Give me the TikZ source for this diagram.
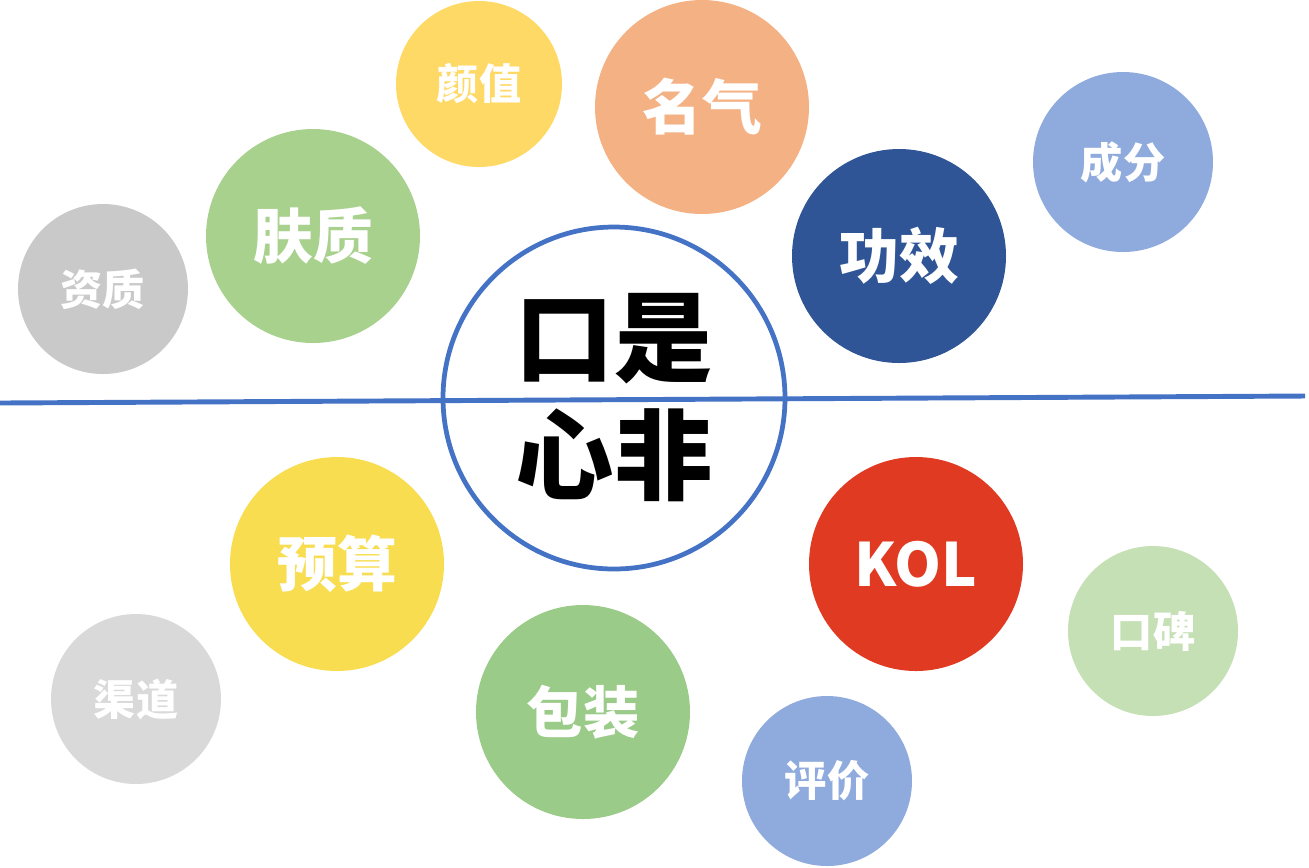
\documentclass[tikz,border=0pt]{standalone}
\usepackage{fontspec}
\setmainfont{Noto Sans CJK SC}
\definecolor{yanzhiC}{HTML}{FFD966}
\definecolor{mingqiC}{HTML}{F4B183}
\definecolor{chengfenC}{HTML}{8FAADC}
\definecolor{fuzhiC}{HTML}{A9D18E}
\definecolor{gongxiaoC}{HTML}{2F5597}
\definecolor{zizhiC}{HTML}{C9C9C9}
\definecolor{yusuanC}{HTML}{F8DD50}
\definecolor{kolC}{HTML}{E03A22}
\definecolor{koubeiC}{HTML}{C5E0B4}
\definecolor{qudaoC}{HTML}{D9D9D9}
\definecolor{baozhuangC}{HTML}{9BCB89}
\definecolor{pingjiaC}{HTML}{8FAADC}
\definecolor{lineC}{HTML}{4472C4}
\begin{document}
\begin{tikzpicture}[x=0.1mm,y=-0.1mm,
  bigbub/.style={circle,inner sep=0pt,text=white,minimum size=2.14cm,font=\fontsize{17}{20}\selectfont\bfseries},
  smallbub/.style={circle,inner sep=0pt,text=white,minimum size=1.70cm,font=\fontsize{12}{14}\selectfont\bfseries}]
  \useasboundingbox (0,0) rectangle (1309,867);
  \node[smallbub,fill=yanzhiC,minimum size=1.66cm] (yanzhi) at (479,84) {颜值};
  \node[bigbub,fill=mingqiC] (mingqi) at (702,107) {名气};
  \node[smallbub,fill=chengfenC,minimum size=1.80cm] (chengfen) at (1123,162) {成分};
  \node[bigbub,fill=fuzhiC] (fuzhi) at (313,236) {肤质};
  \node[bigbub,fill=gongxiaoC] (gongxiao) at (899,256) {功效};
  \node[smallbub,fill=zizhiC] (zizhi) at (103,289) {资质};
  \node[bigbub,fill=yusuanC] (yusuan) at (337,564) {预算};
  \node[bigbub,fill=kolC] (kol) at (916,564) {KOL};
  \node[smallbub,fill=koubeiC] (koubei) at (1153,631) {口碑};
  \node[smallbub,fill=qudaoC] (qudao) at (136,699) {渠道};
  \node[bigbub,fill=baozhuangC,font=\fontsize{16}{19}\selectfont\bfseries] (baozhuang) at (583,712) {包装};
  \node[smallbub,fill=pingjiaC] (pingjia) at (827,781) {评价};

  \node[draw=lineC,line width=1.35pt,circle,inner sep=0pt,minimum size=3.42cm,fill=white,
        align=center,font=\fontsize{28}{33.6}\selectfont\bfseries] (core) at (614,398) {口是\\心非};
  \coordinate (lft) at (0,403);
  \coordinate (rgt) at (1305,396);
  \draw[lineC,line width=1.4pt] (lft) -- (rgt);
\end{tikzpicture}
\end{document}
